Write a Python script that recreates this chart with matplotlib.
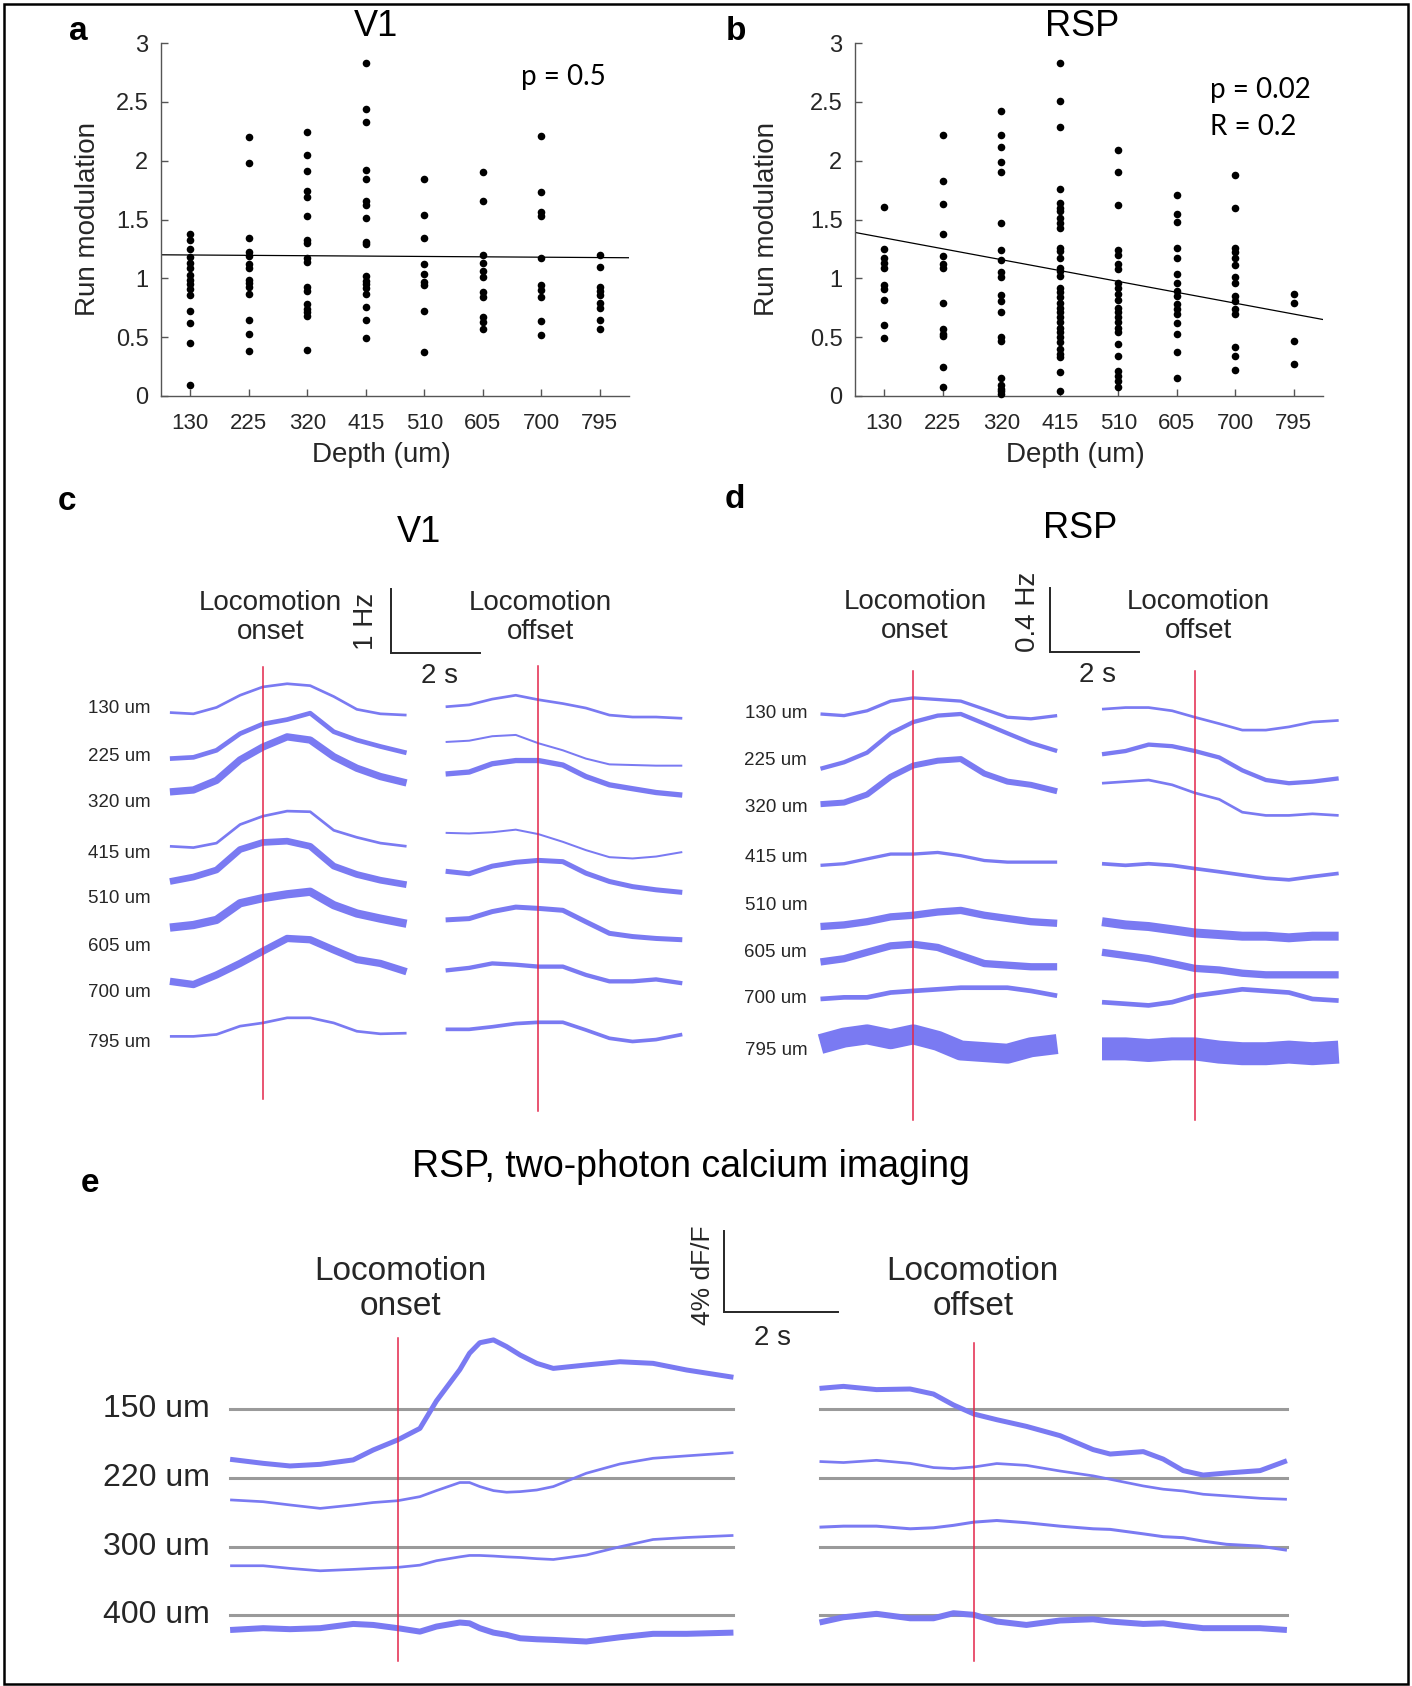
"""Run modulation vs. depth and locomotion-aligned activity traces for V1 and RSP."""

import matplotlib
matplotlib.use("Agg")
import matplotlib.pyplot as plt
import numpy as np
from matplotlib.patches import Rectangle

plt.rcParams["font.family"] = ["Liberation Sans", "DejaVu Sans"]

W, H = 1412, 1686
BLUE = "#7a7af2"
RED = "#e3264a"
INK = "#262626"
GRAY = "#9a9a9a"

# ---- panels a/b: run modulation per recording depth ----
DEPTHS = ["130", "225", "320", "415", "510", "605", "700", "795"]

V1_MOD = [
    [1.38, 1.33, 1.25, 1.18, 1.13, 1.09, 1.03, 0.99, 0.95, 0.91, 0.86, 0.72, 0.62, 0.45, 0.09],
    [2.20, 1.98, 1.34, 1.22, 1.19, 1.12, 1.09, 0.99, 0.96, 0.93, 0.87, 0.65, 0.53, 0.38],
    [2.24, 2.05, 1.91, 1.74, 1.69, 1.53, 1.33, 1.30, 1.17, 1.14, 0.93, 0.89, 0.78, 0.74, 0.71, 0.68, 0.39],
    [2.83, 2.44, 2.33, 1.92, 1.84, 1.66, 1.62, 1.51, 1.31, 1.29, 1.02, 0.98, 0.95, 0.92, 0.87, 0.76, 0.65, 0.49],
    [1.84, 1.54, 1.34, 1.12, 1.04, 0.97, 0.94, 0.72, 0.37],
    [1.90, 1.66, 1.20, 1.13, 1.06, 1.01, 0.88, 0.84, 0.67, 0.63, 0.57],
    [2.21, 1.73, 1.56, 1.53, 1.17, 0.94, 0.90, 0.84, 0.64, 0.52],
    [1.20, 1.10, 0.93, 0.89, 0.86, 0.79, 0.75, 0.65, 0.57],
]

RSP_MOD = [
    [1.61, 1.25, 1.17, 1.13, 1.09, 0.94, 0.91, 0.82, 0.60, 0.49],
    [2.22, 1.83, 1.63, 1.38, 1.19, 1.12, 1.09, 0.79, 0.57, 0.53, 0.51, 0.25, 0.08],
    [2.42, 2.22, 2.12, 1.99, 1.90, 1.47, 1.24, 1.16, 1.05, 1.01, 0.86, 0.81, 0.71, 0.50, 0.47,
     0.15, 0.09, 0.06, 0.04, 0.02],
    [2.83, 2.51, 2.29, 1.76, 1.64, 1.60, 1.57, 1.51, 1.47, 1.43, 1.26, 1.23, 1.17, 1.09, 1.06,
     1.02, 0.92, 0.88, 0.84, 0.79, 0.75, 0.71, 0.67, 0.63, 0.58, 0.54, 0.50, 0.46, 0.40, 0.36,
     0.33, 0.20, 0.04],
    [2.09, 1.90, 1.62, 1.24, 1.20, 1.12, 1.08, 0.96, 0.92, 0.87, 0.82, 0.75, 0.71, 0.67, 0.63,
     0.58, 0.54, 0.44, 0.34, 0.21, 0.17, 0.13, 0.08],
    [1.71, 1.55, 1.48, 1.26, 1.17, 1.04, 0.96, 0.89, 0.85, 0.78, 0.74, 0.70, 0.62, 0.53, 0.37, 0.15],
    [1.88, 1.60, 1.26, 1.22, 1.17, 1.11, 1.01, 0.96, 0.85, 0.81, 0.74, 0.70, 0.42, 0.34, 0.22],
    [0.87, 0.79, 0.47, 0.27],
]

# regression lines evaluated at the two x-limits
V1_FIT = [1.20, 1.175]
RSP_FIT = [1.39, 0.65]

# ---- panels c/d: firing rate (Hz) around locomotion onset / offset ----
T_CD = [-2.09, -1.56, -1.04, -0.51, 0.0, 0.55, 1.07, 1.60, 2.12, 2.65, 3.24]

C_ONSET = [
    [-0.06, -0.08, 0.02, 0.21, 0.34, 0.39, 0.36, 0.19, -0.01, -0.08, -0.10],
    [-0.04, -0.02, 0.09, 0.35, 0.50, 0.57, 0.67, 0.38, 0.25, 0.15, 0.05],
    [0.16, 0.19, 0.34, 0.66, 0.86, 1.02, 0.97, 0.71, 0.53, 0.40, 0.30],
    [0.11, 0.09, 0.16, 0.45, 0.58, 0.66, 0.65, 0.36, 0.25, 0.16, 0.11],
    [0.27, 0.34, 0.45, 0.77, 0.88, 0.90, 0.82, 0.51, 0.38, 0.29, 0.22],
    [0.29, 0.33, 0.41, 0.67, 0.75, 0.81, 0.85, 0.64, 0.51, 0.43, 0.35],
    [0.18, 0.13, 0.28, 0.46, 0.65, 0.85, 0.83, 0.67, 0.52, 0.46, 0.33],
    [0.10, 0.10, 0.13, 0.26, 0.31, 0.39, 0.39, 0.31, 0.18, 0.14, 0.15],
]
C_OFFSET = [
    [0.03, 0.06, 0.15, 0.21, 0.14, 0.08, 0.01, -0.10, -0.13, -0.13, -0.15],
    [0.22, 0.24, 0.31, 0.33, 0.20, 0.09, -0.04, -0.13, -0.14, -0.15, -0.15],
    [0.44, 0.47, 0.60, 0.65, 0.65, 0.58, 0.40, 0.27, 0.21, 0.15, 0.11],
    [0.32, 0.31, 0.33, 0.37, 0.30, 0.18, 0.05, -0.06, -0.08, -0.05, 0.02],
    [0.43, 0.39, 0.51, 0.57, 0.60, 0.58, 0.40, 0.27, 0.19, 0.14, 0.10],
    [0.41, 0.43, 0.54, 0.61, 0.59, 0.56, 0.38, 0.20, 0.15, 0.12, 0.10],
    [0.35, 0.39, 0.46, 0.44, 0.41, 0.41, 0.28, 0.18, 0.18, 0.21, 0.15],
    [0.21, 0.21, 0.25, 0.30, 0.32, 0.32, 0.20, 0.07, 0.02, 0.05, 0.13],
]
D_ONSET = [
    [0.00, -0.01, 0.02, 0.08, 0.10, 0.09, 0.08, 0.03, -0.02, -0.03, -0.01],
    [-0.05, -0.01, 0.05, 0.17, 0.24, 0.28, 0.29, 0.23, 0.17, 0.11, 0.06],
    [0.02, 0.03, 0.08, 0.19, 0.26, 0.29, 0.30, 0.21, 0.16, 0.14, 0.10],
    [-0.05, -0.04, -0.01, 0.02, 0.02, 0.03, 0.01, -0.02, -0.03, -0.03, -0.03],
    [-0.13, -0.12, -0.10, -0.07, -0.06, -0.04, -0.03, -0.06, -0.08, -0.10, -0.11],
    [-0.06, -0.04, 0.00, 0.04, 0.05, 0.03, -0.02, -0.07, -0.08, -0.09, -0.09],
    [0.00, 0.01, 0.01, 0.04, 0.05, 0.06, 0.07, 0.07, 0.07, 0.05, 0.02],
    [0.04, 0.08, 0.10, 0.07, 0.10, 0.06, 0.00, -0.01, -0.02, 0.02, 0.04],
]
D_OFFSET = [
    [0.03, 0.04, 0.04, 0.02, -0.02, -0.06, -0.10, -0.10, -0.08, -0.05, -0.04],
    [0.04, 0.06, 0.10, 0.09, 0.06, 0.02, -0.06, -0.12, -0.14, -0.13, -0.11],
    [0.15, 0.16, 0.17, 0.14, 0.09, 0.05, -0.03, -0.05, -0.05, -0.04, -0.05],
    [-0.04, -0.05, -0.04, -0.05, -0.07, -0.09, -0.11, -0.13, -0.14, -0.12, -0.10],
    [-0.10, -0.12, -0.13, -0.15, -0.17, -0.18, -0.19, -0.19, -0.20, -0.19, -0.19],
    [0.00, -0.02, -0.04, -0.07, -0.10, -0.11, -0.13, -0.14, -0.14, -0.14, -0.14],
    [-0.02, -0.03, -0.04, -0.02, 0.02, 0.04, 0.06, 0.05, 0.04, 0.00, -0.01],
    [0.01, 0.01, 0.00, 0.01, 0.01, -0.01, -0.02, -0.02, -0.01, -0.02, -0.01],
]

# ---- panel e: dF/F (%) from two-photon imaging ----
E_DEPTHS = ["150", "220", "300", "400"]
T_E_ONSET = [-2.94, -2.36, -1.89, -1.36, -0.78, -0.43, 0.0, 0.39, 0.68, 1.09, 1.26, 1.44,
             1.68, 1.91, 2.15, 2.44, 2.73, 3.31, 3.90, 4.48, 5.07, 5.89]
T_E_OFFSET = [-2.71, -2.29, -1.71, -1.12, -0.71, -0.36, 0.0, 0.40, 0.92, 1.51, 2.09, 2.39,
              2.97, 3.32, 3.67, 4.02, 4.43, 5.02, 5.49]
E_ONSET = [
    [-2.49, -2.69, -2.82, -2.74, -2.52, -2.03, -1.53, -0.96, 0.40, 1.95, 2.76, 3.28, 3.42,
     3.09, 2.67, 2.26, 2.01, 2.18, 2.34, 2.26, 1.93, 1.57],
    [-1.07, -1.16, -1.32, -1.49, -1.32, -1.20, -1.11, -0.91, -0.61, -0.21, -0.21, -0.41,
     -0.61, -0.69, -0.66, -0.58, -0.41, 0.25, 0.71, 0.99, 1.11, 1.27],
    [-0.94, -0.94, -1.07, -1.19, -1.12, -1.07, -1.02, -0.91, -0.69, -0.50, -0.43, -0.43,
     -0.46, -0.50, -0.53, -0.59, -0.63, -0.41, 0.00, 0.36, 0.46, 0.56],
    [-0.73, -0.64, -0.69, -0.64, -0.43, -0.48, -0.64, -0.81, -0.56, -0.36, -0.40, -0.64,
     -0.86, -0.97, -1.14, -1.19, -1.22, -1.30, -1.09, -0.92, -0.92, -0.86],
]
E_OFFSET = [
    [1.02, 1.12, 0.96, 0.99, 0.74, 0.20, -0.25, -0.53, -0.86, -1.32, -2.01, -2.23, -2.11,
     -2.48, -3.05, -3.27, -3.17, -3.05, -2.56],
    [0.83, 0.78, 0.89, 0.74, 0.53, 0.48, 0.56, 0.73, 0.64, 0.36, 0.12, -0.05, -0.38, -0.54,
     -0.63, -0.79, -0.87, -0.99, -1.04],
    [0.97, 1.02, 1.02, 0.89, 0.94, 1.06, 1.22, 1.30, 1.19, 1.02, 0.89, 0.86, 0.64, 0.50,
     0.45, 0.28, 0.12, 0.03, -0.17],
    [-0.36, -0.10, 0.07, -0.15, -0.15, 0.10, 0.02, -0.31, -0.48, -0.26, -0.20, -0.31, -0.43,
     -0.40, -0.53, -0.64, -0.64, -0.64, -0.73],
]

# stacking levels and trace widths (px) used for the layout
C_LEVELS = [0, -0.74, -1.46, -2.26, -2.97, -3.71, -4.44, -5.22]
D_LEVELS = [0, -0.29, -0.58, -0.89, -1.19, -1.48, -1.77, -2.09]
E_LEVELS = [0, -3.43, -6.82, -10.21]
C_ON_W = [2.7, 4.7, 7.3, 2.7, 6.7, 8.3, 7.3, 2.7]
C_OFF_W = [2.7, 2.0, 5.3, 2.0, 5.0, 5.0, 4.3, 3.7]
D_ON_W = [3.3, 4.3, 6.0, 3.3, 7.3, 7.3, 4.7, 20.0]
D_OFF_W = [2.7, 4.3, 2.7, 3.7, 9.0, 7.3, 4.7, 23.0]
E_ON_W = [5.0, 2.7, 2.7, 6.0]
E_OFF_W = [5.0, 2.7, 3.0, 6.0]


def fig_rect(l, t, r, b):
    return [l / W, 1 - b / H, (r - l) / W, (b - t) / H]


def ftext(fig, x, y, s, **kw):
    kw.setdefault("ha", "center")
    kw.setdefault("va", "center")
    return fig.text(x / W, 1 - y / H, s, **kw)


def scatter_panel(fig, box, values, fit, ylabel_x):
    ax = fig.add_axes(fig_rect(*box))
    for i, vals in enumerate(values):
        ax.scatter(np.full(len(vals), i), vals, s=30, color="black",
                   linewidths=0, zorder=3, clip_on=False)
    ax.plot([-0.5, 7.5], fit, color="black", lw=0.9, zorder=2)
    ax.set_xlim(-0.5, 7.5)
    ax.set_ylim(0, 3)
    ax.set_xticks(range(len(DEPTHS)))
    ax.set_xticklabels(DEPTHS)
    ax.set_yticks([0, 0.5, 1, 1.5, 2, 2.5, 3])
    ax.set_yticklabels(["0", "0.5", "1", "1.5", "2", "2.5", "3"])
    for side in ("top", "right"):
        ax.spines[side].set_visible(False)
    for side in ("left", "bottom"):
        ax.spines[side].set_color("#555555")
        ax.spines[side].set_linewidth(1.0)
    ax.tick_params(direction="in", length=5, width=1, colors="#555555", labelcolor=INK)
    ax.tick_params(axis="x", labelsize=16, pad=12)
    ax.tick_params(axis="y", labelsize=17, pad=9)
    ax.set_xlabel("Depth (um)", fontsize=20, color=INK)
    ax.set_ylabel("Run modulation", fontsize=20, color=INK)
    ax.xaxis.set_label_coords(0.47, -0.13)
    ax.yaxis.set_label_coords(ylabel_x, 0.5)
    return ax


def trace_axes(fig, box, origin, scale):
    """Invisible axes whose data units are seconds / signal units."""
    l, t, r, b = box
    ax = fig.add_axes(fig_rect(l, t, r, b))
    ax.set_xlim((l - origin[0]) / scale[0], (r - origin[0]) / scale[0])
    ax.set_ylim((origin[1] - b) / scale[1], (origin[1] - t) / scale[1])
    ax.axis("off")
    return ax


def draw_traces(ax, t, traces, levels, widths, shift=0.0):
    tt = np.asarray(t) + shift
    for vals, level, w in zip(traces, levels, widths):
        ax.plot(tt, np.asarray(vals) + level, color=BLUE, lw=w * 0.72,
                solid_capstyle="butt", solid_joinstyle="round", zorder=2)


def scale_bar(ax, x0, y0, width, height):
    ax.plot([x0, x0, x0 + width], [y0 + height, y0, y0], color=INK, lw=1.4,
            solid_joinstyle="miter")


fig = plt.figure(figsize=(W / 100, H / 100), dpi=100)

# a / b
scatter_panel(fig, (161, 43, 629, 396), V1_MOD, V1_FIT, -0.128)
scatter_panel(fig, (855, 43, 1323, 396), RSP_MOD, RSP_FIT, -0.16)
ftext(fig, 376, 27, "V1", fontsize=26)
ftext(fig, 1082, 27, "RSP", fontsize=26)
ftext(fig, 521, 77, "p = 0.5", fontsize=20, ha="left", family=["Lato", "DejaVu Sans"])
ftext(fig, 1210, 90, "p = 0.02", fontsize=20, ha="left", family=["Lato", "DejaVu Sans"])
ftext(fig, 1210, 127, "R = 0.2", fontsize=20, ha="left", family=["Lato", "DejaVu Sans"])

# c: V1 firing rate
axc = trace_axes(fig, (0, 480, 706, 1125), (262.7, 708.7), (44.4, 64))
draw_traces(axc, T_CD, C_ONSET, C_LEVELS, C_ON_W)
draw_traces(axc, T_CD, C_OFFSET, C_LEVELS, C_OFF_W, shift=6.21)
axc.plot([0, 0], [0.65, -6.1], color=RED, lw=1.1, zorder=3)
axc.plot([6.21, 6.21], [0.67, -6.29], color=RED, lw=1.1, zorder=3)
for d, lvl in zip(DEPTHS, C_LEVELS):
    axc.text(-2.52, lvl, f"{d} um", ha="right", va="center", fontsize=13.5, color=INK)
scale_bar(axc, 2.89, 0.87, 2, 1)
axc.text(2.32, 1.36, "1 Hz", rotation=90, ha="center", va="center", fontsize=20, color=INK)
axc.text(3.98, 0.51, "2 s", ha="center", va="center", fontsize=20, color=INK)
axc.text(0.17, 1.42, "Locomotion\nonset", ha="center", va="center", fontsize=20,
         color=INK, linespacing=1.15)
axc.text(6.26, 1.42, "Locomotion\noffset", ha="center", va="center", fontsize=20,
         color=INK, linespacing=1.15)
axc.text(3.52, 2.76, "V1", ha="center", va="center", fontsize=26)

# d: RSP firing rate
axd = trace_axes(fig, (706, 480, 1412, 1125), (913.3, 714), (44.4, 161))
draw_traces(axd, T_CD, D_ONSET, D_LEVELS, D_ON_W)
draw_traces(axd, T_CD, D_OFFSET, D_LEVELS, D_OFF_W, shift=6.34)
axd.plot([0, 0], [0.27, -2.52], color=RED, lw=1.1, zorder=3)
axd.plot([6.34, 6.34], [0.27, -2.52], color=RED, lw=1.1, zorder=3)
for d, lvl in zip(DEPTHS, D_LEVELS):
    axd.text(-2.39, lvl, f"{d} um", ha="right", va="center", fontsize=13.5, color=INK)
scale_bar(axd, 3.09, 0.385, 2, 0.4)
axd.text(2.58, 0.634, "0.4 Hz", rotation=90, ha="center", va="center", fontsize=20, color=INK)
axd.text(4.15, 0.242, "2 s", ha="center", va="center", fontsize=20, color=INK)
axd.text(0.04, 0.606, "Locomotion\nonset", ha="center", va="center", fontsize=20,
         color=INK, linespacing=1.15)
axd.text(6.43, 0.606, "Locomotion\noffset", ha="center", va="center", fontsize=20,
         color=INK, linespacing=1.15)
axd.text(3.75, 1.155, "RSP", ha="center", va="center", fontsize=26)

# e: two-photon dF/F
axe = trace_axes(fig, (0, 1125, 1412, 1686), (397.7, 1409), (57, 20.2))
E_SHIFT = 10.11
for lvl in E_LEVELS:
    axe.plot([T_E_ONSET[0], T_E_ONSET[-1]], [lvl, lvl], color=GRAY, lw=2.2, zorder=1)
    axe.plot([T_E_OFFSET[0] + E_SHIFT, T_E_OFFSET[-1] + E_SHIFT], [lvl, lvl],
             color=GRAY, lw=2.2, zorder=1)
draw_traces(axe, T_E_ONSET, E_ONSET, E_LEVELS, E_ON_W)
draw_traces(axe, T_E_OFFSET, E_OFFSET, E_LEVELS, E_OFF_W, shift=E_SHIFT)
axe.plot([0, 0], [3.51, -12.48], color=RED, lw=1.1, zorder=3)
axe.plot([E_SHIFT, E_SHIFT], [3.27, -12.48], color=RED, lw=1.1, zorder=3)
for d, lvl in zip(E_DEPTHS, E_LEVELS):
    axe.text(-3.29, lvl, f"{d} um", ha="right", va="center", fontsize=23, color=INK)
scale_bar(axe, 5.72, 4.8, 2, 4)
axe.text(5.35, 6.6, "4% dF/F", rotation=90, ha="center", va="center", fontsize=19, color=INK)
axe.text(6.57, 3.51, "2 s", ha="center", va="center", fontsize=20, color=INK)
axe.text(0.04, 5.94, "Locomotion\nonset", ha="center", va="center", fontsize=24,
         color=INK, linespacing=1.2)
axe.text(10.09, 5.94, "Locomotion\noffset", ha="center", va="center", fontsize=24,
         color=INK, linespacing=1.2)
axe.text(5.15, 11.98, "RSP, two-photon calcium imaging", ha="center", va="center", fontsize=27)

# panel letters
for letter, (x, y) in zip("abcde", [(78, 31), (736, 31), (67, 501), (735, 500), (90, 1183)]):
    ftext(fig, x, y, letter, fontsize=24, fontweight="bold")

# outer frame
fig.patches.append(Rectangle((4 / W, 1 - 1684 / H), 1404 / W, 1680 / H,
                             transform=fig.transFigure, fill=False, lw=1.8,
                             edgecolor="black"))

fig.savefig("out.png", dpi=100)
plt.close(fig)
